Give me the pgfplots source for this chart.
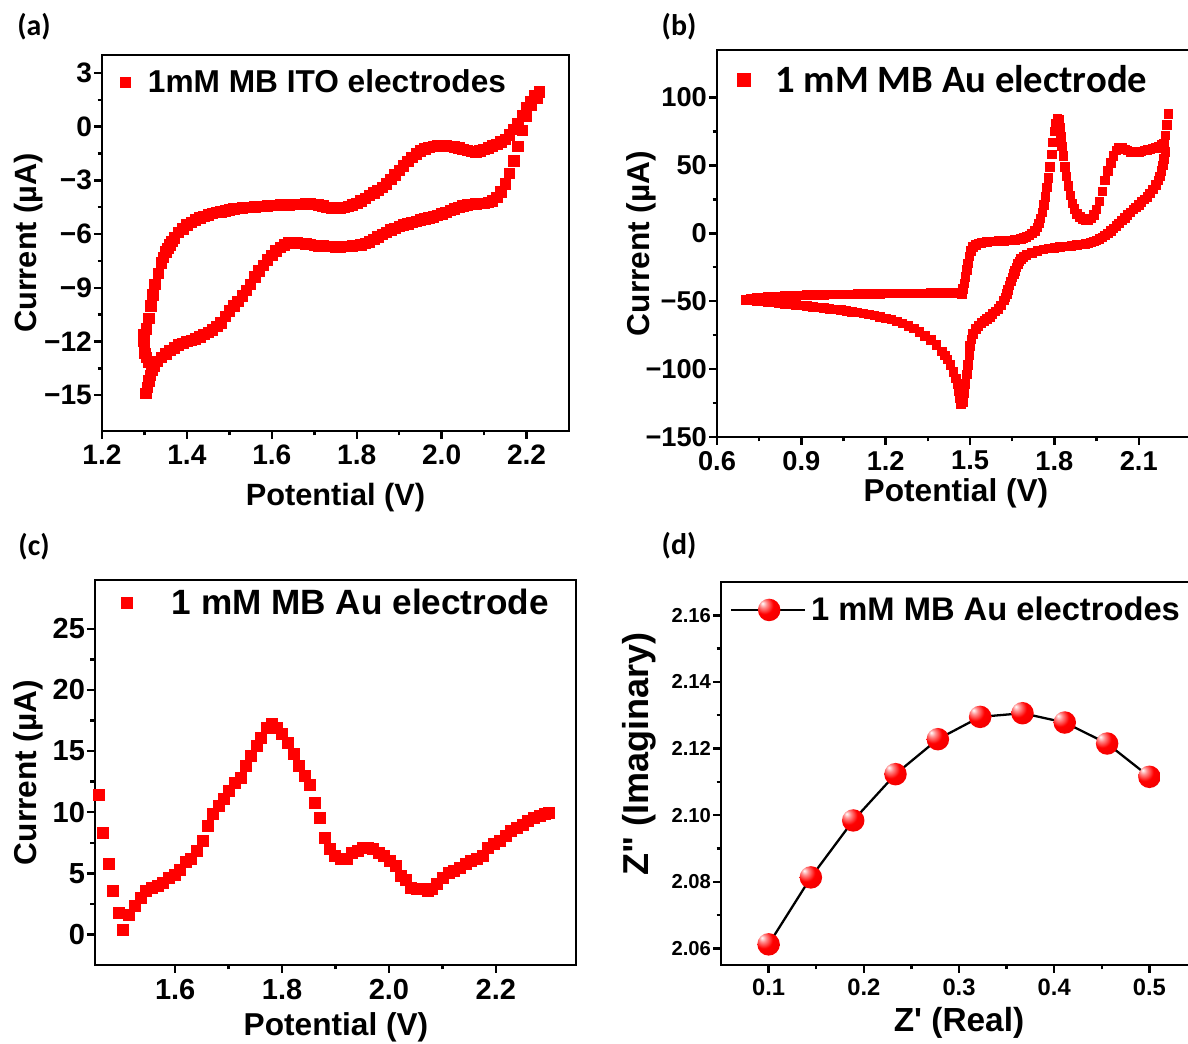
\documentclass[border=0pt]{standalone}
\usepackage{fontspec}
\setmainfont{Liberation Sans}
\newfontfamily\calibri{Carlito}
\usepackage{pgfplots}
\pgfplotsset{compat=1.18}
\usetikzlibrary{shadings}
\newcommand{\tf}[1]{\fontsize{#1}{#1}\selectfont\bfseries}

\pgfdeclareradialshading{redball}{\pgfpoint{-15bp}{15bp}}{%
  color(0bp)=(white); color(8bp)=(red!45!white); color(20bp)=(red);
  color(45bp)=(red!92!black); color(72bp)=(red!65!black)}
\pgfdeclareplotmark{rball}{%
  \pgfpathcircle{\pgfpointorigin}{\pgfplotmarksize}%
  \pgfshadepath{redball}{0}%
  \pgfusepath{discard}}

\pgfplotsset{
  panel/.style={
    scale only axis,
    anchor=south west,
    axis line style={line width=1.6pt},
    every tick/.style={line width=1.4pt, black},
    tick align=outside,
    tick pos=left,
    major tick length=0.16cm,
    minor tick length=0.09cm,
    minor x tick num=1, minor y tick num=1,
    /pgf/number format/assume math mode=true,
    xlabel style={anchor=center},
    ylabel style={anchor=center},
    legend style={draw=none, fill=none, inner sep=0pt, outer sep=0pt, anchor=west,
      nodes={inner sep=0pt}},
    legend cell align=left,
  },
}

\begin{document}
\begin{tikzpicture}
\useasboundingbox (0,0) rectangle (23.76,20.88);
\clip (0,0) rectangle (23.76,20.88);

% panel labels
\node[font=\calibri\tf{17}] at (0.68,20.34) {(a)};
\node[font=\calibri\tf{17}] at (13.58,20.34) {(b)};
\node[font=\calibri\tf{17}] at (0.68,9.94) {(c)};
\node[font=\calibri\tf{17}] at (13.58,9.96) {(d)};

% ---------------- (a) ----------------
\begin{axis}[panel,
  at={(2.04cm,12.26cm)}, width=9.34cm, height=7.52cm,
  xmin=1.2, xmax=2.3, ymin=-17, ymax=4,
  xtick={1.2,1.4,1.6,1.8,2.0,2.2},
  xticklabels={1.2,1.4,1.6,1.8,2.0,2.2},
  ytick={-15,-12,-9,-6,-3,0,3},
  yticklabels={−15,−12,−9,−6,−3,0,3},
  tick label style={font=\tf{16}},
  yticklabel style={inner xsep=1pt},
  label style={font=\tf{17.5}},
  xlabel={Potential (V)}, ylabel={Current (µA)},
  xlabel style={at={(axis description cs:0.5,-0.176)}},
  ylabel style={at={(axis description cs:-0.158,0.5)}},
  legend style={at={(axis description cs:0.0385,0.928)}, font=\tf{18}},
  legend image code/.code={\path[draw=none,fill=none] (0cm,-0.1cm) rectangle (0.56cm,0.1cm);
     \draw[#1, mark size=0.1cm] plot coordinates {(0.1cm,0cm)};},
]
\addplot[only marks, mark=square*, mark size=0.105cm, mark options={fill=red, draw=none}, red]
coordinates {
(1.303,-14.9)(1.307,-14.55)(1.310,-14.2)(1.314,-13.9)(1.318,-13.6)(1.322,-13.35)(1.326,-13.1)
(1.299,-11.6)(1.299,-12.0)(1.300,-12.35)(1.301,-12.65)(1.305,-12.9)(1.310,-13.15)(1.316,-13.3)
(1.300,-11.8)(1.305,-11.3)(1.310,-10.7)(1.315,-10.0)(1.320,-9.4)(1.325,-8.8)(1.333,-8.2)
(1.340,-7.6)(1.345,-7.3)(1.350,-7.0)(1.355,-6.8)(1.360,-6.6)(1.365,-6.4)(1.370,-6.2)
(1.380,-5.9)(1.390,-5.7)(1.400,-5.5)(1.410,-5.35)(1.420,-5.2)(1.430,-5.1)(1.440,-5.0)
(1.450,-4.92)(1.460,-4.85)(1.470,-4.8)(1.480,-4.75)(1.490,-4.7)(1.500,-4.65)(1.510,-4.6)
(1.520,-4.57)(1.530,-4.54)(1.540,-4.52)(1.550,-4.5)(1.560,-4.48)(1.570,-4.46)(1.580,-4.44)
(1.590,-4.42)(1.600,-4.4)(1.610,-4.39)(1.620,-4.38)(1.630,-4.37)(1.640,-4.36)(1.650,-4.35)
(1.660,-4.34)(1.670,-4.33)(1.680,-4.32)(1.690,-4.32)(1.700,-4.33)(1.710,-4.36)(1.720,-4.42)
(1.730,-4.5)(1.740,-4.55)(1.750,-4.57)(1.760,-4.55)(1.770,-4.5)(1.780,-4.45)(1.790,-4.37)
(1.800,-4.28)(1.810,-4.15)(1.820,-4.0)(1.830,-3.85)(1.840,-3.7)(1.850,-3.55)(1.860,-3.4)
(1.870,-3.2)(1.880,-2.95)(1.890,-2.7)(1.900,-2.45)(1.910,-2.2)(1.920,-1.95)(1.930,-1.72)
(1.940,-1.52)(1.950,-1.36)(1.960,-1.24)(1.970,-1.15)(1.980,-1.1)(1.990,-1.08)(2.000,-1.07)
(2.010,-1.08)(2.020,-1.1)(2.030,-1.14)(2.040,-1.2)(2.050,-1.27)(2.060,-1.34)(2.070,-1.39)
(2.080,-1.4)(2.090,-1.36)(2.100,-1.28)(2.110,-1.18)(2.120,-1.08)(2.130,-0.98)(2.140,-0.85)
(2.150,-0.7)(2.160,-0.45)(2.170,-0.15)(2.180,0.15)(2.190,0.6)(2.200,1.05)(2.210,1.4)
(2.220,1.75)(2.230,1.95)
(2.225,1.6)(2.220,1.65)(2.210,1.2)(2.200,0.6)(2.190,-0.2)(2.180,-1.1)(2.170,-1.9)
(2.160,-2.6)(2.150,-3.2)(2.140,-3.65)(2.130,-3.95)(2.120,-4.15)(2.110,-4.23)(2.100,-4.28)
(2.090,-4.3)(2.080,-4.32)(2.070,-4.34)(2.060,-4.37)(2.050,-4.42)(2.040,-4.5)(2.030,-4.58)
(2.020,-4.68)(2.010,-4.78)(2.000,-4.86)(1.990,-4.95)(1.980,-5.03)(1.970,-5.1)(1.960,-5.16)
(1.950,-5.22)(1.940,-5.28)(1.930,-5.35)(1.920,-5.42)(1.910,-5.5)(1.900,-5.58)(1.890,-5.68)
(1.880,-5.78)(1.870,-5.9)(1.860,-6.03)(1.850,-6.15)(1.840,-6.3)(1.830,-6.43)(1.820,-6.53)
(1.810,-6.6)(1.800,-6.64)(1.790,-6.67)(1.780,-6.69)(1.770,-6.7)(1.760,-6.71)(1.750,-6.71)
(1.740,-6.7)(1.730,-6.69)(1.720,-6.67)(1.710,-6.65)(1.700,-6.62)(1.690,-6.59)(1.680,-6.56)
(1.670,-6.53)(1.660,-6.5)(1.650,-6.48)(1.640,-6.5)(1.630,-6.6)(1.620,-6.75)(1.610,-6.95)
(1.600,-7.2)(1.590,-7.45)(1.580,-7.75)(1.570,-8.05)(1.560,-8.4)(1.550,-8.8)(1.540,-9.15)
(1.530,-9.45)(1.520,-9.75)(1.510,-10.0)(1.500,-10.3)(1.490,-10.6)(1.480,-10.95)(1.470,-11.15)
(1.460,-11.35)(1.450,-11.5)(1.440,-11.6)(1.430,-11.75)(1.420,-11.85)(1.410,-11.95)(1.400,-12.0)
(1.390,-12.1)(1.380,-12.2)(1.370,-12.35)(1.360,-12.5)(1.350,-12.7)(1.340,-12.9)(1.330,-13.1)
(1.320,-13.25)
};
\addlegendentry{1mM MB ITO electrodes}
\end{axis}

% ---------------- (b) ----------------
\begin{axis}[panel,
  at={(14.34cm,12.14cm)}, width=9.56cm, height=7.74cm,
  xmin=0.6, xmax=2.3, ymin=-150, ymax=135,
  xtick={0.6,0.9,1.2,1.5,1.8,2.1},
  xticklabels={0.6,0.9,1.2,1.5,1.8,2.1},
  ytick={-150,-100,-50,0,50,100},
  yticklabels={−150,−100,−50,0,50,100},
  tick label style={font=\tf{15.5}},
  yticklabel style={inner xsep=1pt},
  label style={font=\tf{18}},
  xlabel={Potential (V)}, ylabel={Current (µA)},
  xlabel style={at={(axis description cs:0.5,-0.145)}},
  ylabel style={at={(axis description cs:-0.159,0.5)}},
  legend style={at={(axis description cs:0.043,0.922)}, font=\calibri\tf{22}},
  legend image code/.code={\path[draw=none,fill=none] (0cm,-0.13cm) rectangle (0.76cm,0.13cm);
     \draw[#1, mark size=0.13cm] plot coordinates {(0.13cm,0cm)};},
]
\addplot[only marks, mark=square*, mark size=0.085cm, mark options={fill=red, draw=none}, red]
coordinates {
(0.70,-48.5)(0.72,-48.0)(0.74,-47.6)(0.76,-47.2)(0.78,-46.9)(0.80,-46.6)(0.82,-46.4)(0.84,-46.2)
(0.86,-46.0)(0.88,-45.8)(0.90,-45.7)(0.92,-45.5)(0.94,-45.4)(0.96,-45.3)(0.98,-45.2)(1.00,-45.1)
(1.02,-45.0)(1.04,-44.9)(1.06,-44.8)(1.08,-44.8)(1.10,-44.7)(1.12,-44.6)(1.14,-44.6)(1.16,-44.5)
(1.18,-44.5)(1.20,-44.4)(1.22,-44.4)(1.24,-44.3)(1.26,-44.3)(1.28,-44.2)(1.30,-44.2)(1.32,-44.1)
(1.34,-44.1)(1.36,-44.0)(1.38,-44.0)(1.40,-44.0)(1.42,-43.9)(1.44,-43.9)(1.46,-43.8)(1.47,-44.5)
(1.475,-41)(1.48,-37)(1.484,-32)(1.488,-27)(1.492,-22)(1.497,-17)(1.503,-13)(1.51,-10)
(1.52,-8.5)(1.53,-7.5)(1.54,-6.9)(1.56,-6.3)(1.58,-6.0)(1.60,-5.7)(1.62,-5.5)(1.64,-5.3)
(1.66,-4.9)(1.68,-4.2)(1.69,-3.5)(1.70,-2.6)(1.71,-1.5)(1.72,-0.2)(1.73,1.8)(1.74,4.5)
(1.745,7.5)(1.75,11)(1.757,15.5)(1.763,21)(1.768,27)(1.773,34)(1.778,41)(1.784,49)
(1.79,58)(1.795,67)(1.80,75)(1.805,81)(1.81,84.5)(1.815,84)(1.819,78)(1.823,71)
(1.827,64)(1.832,57)(1.837,49)(1.843,42)(1.849,35)(1.856,28)(1.863,22)(1.87,18)
(1.88,14.5)(1.89,12)(1.90,10.5)(1.91,10)(1.92,10)(1.93,11)(1.94,13.5)(1.95,17.5)
(1.96,23.5)(1.97,31)(1.98,39)(1.99,46)(2.00,52)(2.01,57)(2.02,61)(2.03,63)
(2.04,63)(2.05,62)(2.06,61)(2.07,60)(2.08,59.5)(2.09,59.5)(2.10,60)(2.11,60.5)
(2.12,61)(2.13,61.5)(2.14,62)(2.15,62.5)(2.16,63)(2.17,64)(2.18,65)(2.19,66)
(2.195,72)(2.20,80)(2.205,88)
(2.195,60)(2.19,55)(2.185,50)(2.18,46)(2.175,42)(2.17,39)(2.16,35.5)(2.15,32.5)
(2.14,29.5)(2.13,27)(2.12,25)(2.11,23)(2.10,21)(2.09,19)(2.08,17.5)(2.07,15.5)
(2.06,13.5)(2.05,11.5)(2.04,9.5)(2.03,7.5)(2.02,5.5)(2.01,3.5)(2.00,1.8)(1.99,0)
(1.98,-1.5)(1.97,-3)(1.96,-4.2)(1.95,-5.2)(1.94,-6)(1.93,-6.8)(1.92,-7.4)(1.91,-7.8)
(1.90,-8.1)(1.88,-8.6)(1.86,-9.1)(1.84,-9.6)(1.82,-10.1)(1.80,-10.6)(1.78,-11.2)(1.76,-12)
(1.74,-13)(1.72,-14.3)(1.70,-16)(1.69,-17.2)(1.68,-19)(1.675,-20.5)(1.67,-22.5)(1.665,-25)
(1.66,-27.5)(1.655,-30)(1.65,-32.5)(1.645,-35.5)(1.64,-38.5)(1.635,-41.5)(1.63,-44.5)(1.625,-47)
(1.62,-49.5)(1.61,-53)(1.60,-55.5)(1.59,-57.5)(1.58,-59.5)(1.57,-61.5)(1.56,-63)(1.55,-64.5)
(1.54,-66)(1.53,-68)(1.52,-70.5)(1.51,-74)(1.505,-78)(1.50,-83)(1.497,-90)(1.493,-97)
(1.488,-104)(1.483,-111)(1.478,-118)(1.474,-124)
(1.468,-126)(1.464,-121)(1.46,-116)(1.455,-111)(1.45,-107)(1.44,-102)(1.43,-97)(1.42,-93)
(1.41,-90)(1.40,-87)(1.38,-82)(1.36,-78.5)(1.34,-75.5)(1.32,-72.5)(1.30,-70)(1.28,-68)
(1.26,-66.3)(1.24,-64.8)(1.22,-63.5)(1.20,-62.5)(1.18,-61.5)(1.16,-60.6)(1.14,-59.8)(1.12,-59)
(1.10,-58.3)(1.08,-57.7)(1.06,-57.1)(1.04,-56.5)(1.02,-56)(1.00,-55.5)(0.98,-55)(0.96,-54.5)
(0.94,-54)(0.92,-53.5)(0.90,-53)(0.88,-52.6)(0.86,-52.2)(0.84,-51.8)(0.82,-51.4)(0.80,-51)
(0.78,-50.6)(0.76,-50.2)(0.74,-49.8)(0.72,-49.4)(0.70,-49)
};
\addlegendentry{1 mM MB Au electrode}
\end{axis}

% ---------------- (c) ----------------
\begin{axis}[panel,
  at={(1.90cm,1.58cm)}, width=9.62cm, height=7.70cm,
  xmin=1.45, xmax=2.35, ymin=-2.5, ymax=29,
  xtick={1.6,1.8,2.0,2.2},
  xticklabels={1.6,1.8,2.0,2.2},
  ytick={0,5,10,15,20,25},
  yticklabels={0,5,10,15,20,25},
  tick label style={font=\tf{16.5}},
  yticklabel style={inner xsep=1pt},
  label style={font=\tf{18}},
  xlabel={Potential (V)}, ylabel={Current (µA)},
  xlabel style={at={(axis description cs:0.501,-0.161)}},
  ylabel style={at={(axis description cs:-0.139,0.5)}},
  legend style={at={(axis description cs:0.055,0.940)}, font=\tf{20}},
  legend image code/.code={\path[draw=none,fill=none] (0cm,-0.11cm) rectangle (1.01cm,0.11cm);
     \draw[#1, mark size=0.11cm] plot coordinates {(0.11cm,0cm)};},
]
\addplot[only marks, mark=square*, mark size=0.11cm, mark options={fill=red, draw=none}, red]
coordinates {
(1.458,11.4)(1.464,8.33)(1.475,5.74)(1.483,3.55)(1.494,1.78)(1.503,0.41)(1.514,1.64)(1.524,2.32)
(1.535,3.0)(1.546,3.55)(1.556,3.8)(1.567,3.96)(1.577,4.23)(1.588,4.64)(1.599,4.9)(1.609,5.3)
(1.620,5.9)(1.630,6.15)(1.641,6.83)(1.652,7.65)(1.661,8.88)(1.671,9.84)(1.681,10.5)(1.692,11.1)
(1.701,11.75)(1.712,12.4)(1.722,12.8)(1.732,13.8)(1.741,14.6)(1.752,15.4)(1.761,16.1)(1.772,16.9)
(1.781,17.2)(1.791,16.9)(1.800,16.4)(1.811,15.7)(1.822,14.75)(1.832,13.8)(1.843,13.0)(1.852,12.2)
(1.862,10.8)(1.871,9.56)(1.880,7.92)(1.890,6.97)(1.899,6.42)(1.910,6.15)(1.921,6.2)(1.931,6.7)
(1.942,6.83)(1.951,7.1)(1.961,7.1)(1.970,6.97)(1.981,6.7)(1.991,6.42)(2.002,6.0)(2.013,5.6)
(2.022,4.78)(2.032,4.5)(2.041,3.83)(2.052,3.7)(2.062,3.7)(2.073,3.55)(2.081,3.7)(2.090,4.1)
(2.101,4.64)(2.112,5.05)(2.122,5.2)(2.133,5.46)(2.144,5.74)(2.154,6.0)(2.165,6.15)(2.175,6.42)
(2.186,7.1)(2.197,7.38)(2.207,7.65)(2.218,8.06)(2.228,8.47)(2.239,8.74)(2.250,9.0)(2.260,9.3)
(2.271,9.56)(2.282,9.7)(2.292,9.84)(2.300,9.97)
};
\addlegendentry{1 mM MB Au electrode}
\end{axis}

% ---------------- (d) ----------------
\begin{axis}[panel,
  at={(14.42cm,1.58cm)}, width=9.52cm, height=7.66cm,
  xmin=0.05, xmax=0.55, ymin=2.055, ymax=2.17,
  xtick={0.1,0.2,0.3,0.4,0.5},
  xticklabels={0.1,0.2,0.3,0.4,0.5},
  ytick={2.06,2.08,2.10,2.12,2.14,2.16},
  yticklabels={2.06,2.08,2.10,2.12,2.14,2.16},
  xticklabel style={font=\tf{13.5}},
  yticklabel style={font=\tf{11.5}, inner xsep=1pt},
  label style={font=\tf{19}},
  xlabel={Z\textquotesingle\ (Real)}, ylabel={Z\textquotedbl\ (Imaginary)},
  xlabel style={at={(axis description cs:0.5,-0.151)}},
  ylabel style={at={(axis description cs:-0.172,0.55)}, font=\tf{20.5}},
  legend style={at={(axis description cs:0.019,0.927)}, font=\tf{18.6}},
  legend image code/.code={\path[draw=none,fill=none] (0cm,-0.22cm) rectangle (1.60cm,0.22cm);
     \draw[#1, mark=none] (0cm,0cm) -- (1.48cm,0cm);
     \draw[#1] plot coordinates {(0.76cm,0cm)};},
]
\addplot[black, line width=1.3pt, mark=rball, mark size=6.4pt]
coordinates {
(0.1000,2.0612)(0.1444,2.0813)(0.1889,2.0984)(0.2333,2.1123)(0.2778,2.1228)
(0.3222,2.1295)(0.3667,2.1306)(0.4111,2.1278)(0.4556,2.1215)(0.5000,2.1115)
};
\addlegendentry{1 mM MB Au electrodes}
\end{axis}
\end{tikzpicture}
\end{document}
